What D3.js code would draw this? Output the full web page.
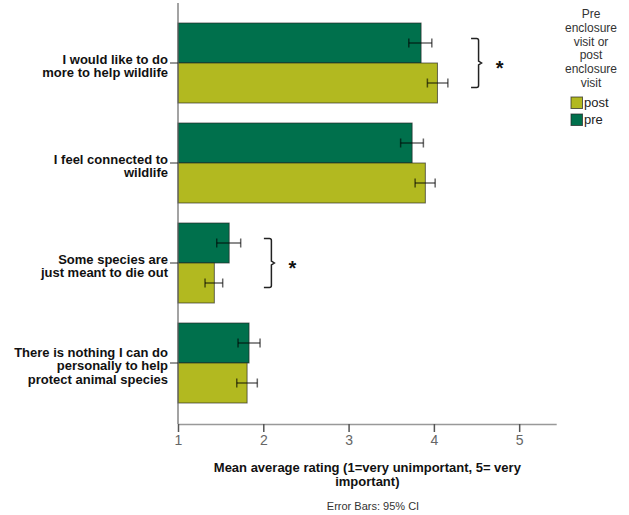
<!DOCTYPE html>
<html>
<head>
<meta charset="utf-8">
<script src="https://cdn.jsdelivr.net/npm/d3@7/dist/d3.min.js"></script>
<style>
  html, body { margin: 0; padding: 0; background: #fff; }
  svg { display: block; font-family: "Liberation Sans", Arial, sans-serif; }
</style>
</head>
<body>
<svg id="chart" width="629" height="515"></svg>
<script>
// Statements rated by visitors (label lines as drawn)
const categories = [
  ["I would like to do", "more to help wildlife"],
  ["I feel connected to", "wildlife"],
  ["Some species are", "just meant to die out"],
  ["There is nothing I can do", "personally to help", "protect animal species"]
];
const groups = ["pre", "post"];

// Mean rating and 95% CI per statement
const preMean = [3.85, 3.745, 1.60, 1.833];
const preLow  = [3.706, 3.61, 1.454, 1.704];
const preHigh = [3.976, 3.877, 1.735, 1.962];
const postMean = [4.042, 3.90, 1.426, 1.81];
const postLow  = [3.924, 3.78, 1.317, 1.689];
const postHigh = [4.164, 4.015, 1.524, 1.93];

// Statements with a significant pre/post difference
const significant = [0, 2];

const xTicks = [1, 2, 3, 4, 5];
const legendTitle = ["Pre", "enclosure", "visit or", "post", "enclosure", "visit"];
const legendItems = ["post", "pre"];
const xTitle = ["Mean average rating (1=very unimportant, 5= very", "important)"];
const footnote = "Error Bars: 95% CI";

const colors = { pre: "#00704c", post: "#b2b920" };

const svg = d3.select("#chart");

const x = d3.scaleLinear().domain([1, 5.44]).range([178, 556.7]);
const y = d3.scaleBand().domain(d3.range(categories.length)).range([13, 413])
  .paddingInner(0.2).paddingOuter(0.1);
const sub = d3.scaleBand().domain(groups).range([0, y.bandwidth()]);

const rows = [];
categories.forEach((c, i) => {
  rows.push({ i, g: "pre", mean: preMean[i], lo: preLow[i], hi: preHigh[i] });
  rows.push({ i, g: "post", mean: postMean[i], lo: postLow[i], hi: postHigh[i] });
});

// Bars
svg.append("g").selectAll("rect").data(rows).join("rect")
  .attr("x", x(1))
  .attr("y", d => y(d.i) + sub(d.g))
  .attr("width", d => x(d.mean) - x(1))
  .attr("height", sub.bandwidth())
  .attr("fill", d => colors[d.g])
  .attr("stroke", "#222")
  .attr("stroke-opacity", 0.65)
  .attr("stroke-width", 1);

// Error bars
const eb = svg.append("g").attr("stroke", "#000").attr("stroke-opacity", 0.6).attr("stroke-width", 1.5);
rows.forEach(d => {
  const cy = y(d.i) + sub(d.g) + sub.bandwidth() / 2;
  eb.append("line").attr("x1", x(d.lo)).attr("x2", x(d.hi)).attr("y1", cy).attr("y2", cy);
  eb.append("line").attr("x1", x(d.lo)).attr("x2", x(d.lo)).attr("y1", cy - 4.5).attr("y2", cy + 4.5);
  eb.append("line").attr("x1", x(d.hi)).attr("x2", x(d.hi)).attr("y1", cy - 4.5).attr("y2", cy + 4.5);
});

// Significance brackets and stars
significant.forEach(i => {
  const hi = Math.max(preHigh[i], postHigh[i]);
  const xv = x(hi + 0.36), xa = xv - 7.5;
  const cy = y(i) + y.bandwidth() / 2;
  const t = cy - 24.5, b = cy + 24.5, r = 2;
  svg.append("path")
    .attr("d", `M${xa},${t} H${xv - r} Q${xv},${t} ${xv},${t + r} V${cy - 2} L${xv + 3},${cy} L${xv},${cy + 2} V${b - r} Q${xv},${b} ${xv - r},${b} H${xa}`)
    .attr("fill", "none").attr("stroke", "#222").attr("stroke-width", 1.5);
  svg.append("text")
    .attr("x", xv + 21).attr("y", cy + 12)
    .attr("text-anchor", "middle")
    .attr("font-size", 20).attr("font-weight", "bold").attr("fill", "#111")
    .text("*");
});

// Y axis
svg.append("line").attr("x1", 178).attr("x2", 178).attr("y1", 3).attr("y2", 424)
  .attr("stroke", "#666").attr("stroke-width", 1.2);
categories.forEach((lines, i) => {
  const cy = y(i) + y.bandwidth() / 2;
  svg.append("line").attr("x1", 170).attr("x2", 178).attr("y1", cy).attr("y2", cy)
    .attr("stroke", "#333").attr("stroke-width", 1);
  const n = lines.length;
  const t = svg.append("text")
    .attr("text-anchor", "end").attr("font-size", 13).attr("font-weight", "bold").attr("fill", "#111");
  lines.forEach((s, k) => {
    t.append("tspan").attr("x", 168).attr("y", cy + 7.4 + (k - (n - 1) / 2) * 13.8).text(s);
  });
});

// X axis
const xAxis = svg.append("g").attr("transform", "translate(0,424)")
  .call(d3.axisBottom(x).tickValues(xTicks).tickSize(8).tickPadding(3).tickFormat(d3.format("d")));
xAxis.select(".domain").attr("stroke", "#999").attr("stroke-width", 1.5).attr("d", `M${x(1)},0.5H${x(5.44)}`);
xAxis.selectAll(".tick line").attr("stroke", "#555").attr("stroke-width", 1.5);
xAxis.selectAll(".tick text").attr("font-size", 14).attr("fill", "#666")
  .attr("font-family", "Liberation Sans, Arial, sans-serif");

// X title
const xc = (x(1) + x(5.44)) / 2;
const xt = svg.append("text").attr("text-anchor", "middle").attr("font-size", 13)
  .attr("font-weight", "bold").attr("fill", "#111");
xTitle.forEach((s, k) => xt.append("tspan").attr("x", xc).attr("y", 472 + k * 13.8).text(s));

svg.append("text").attr("x", 373).attr("y", 510).attr("text-anchor", "middle")
  .attr("font-size", 11).attr("fill", "#333").text(footnote);

// Legend
const lt = svg.append("text").attr("text-anchor", "middle").attr("font-size", 12).attr("fill", "#333");
legendTitle.forEach((s, k) => lt.append("tspan").attr("x", 591).attr("y", 18 + k * 13.8).text(s));
legendItems.forEach((g, k) => {
  const yy = 97 + k * 17;
  svg.append("rect").attr("x", 571).attr("y", yy).attr("width", 11.5).attr("height", 11.5)
    .attr("fill", colors[g]).attr("stroke", "#222").attr("stroke-opacity", 0.7);
  svg.append("text").attr("x", 584).attr("y", yy + 10).attr("font-size", 13).attr("fill", "#222").text(g);
});
</script>
</body>
</html>
